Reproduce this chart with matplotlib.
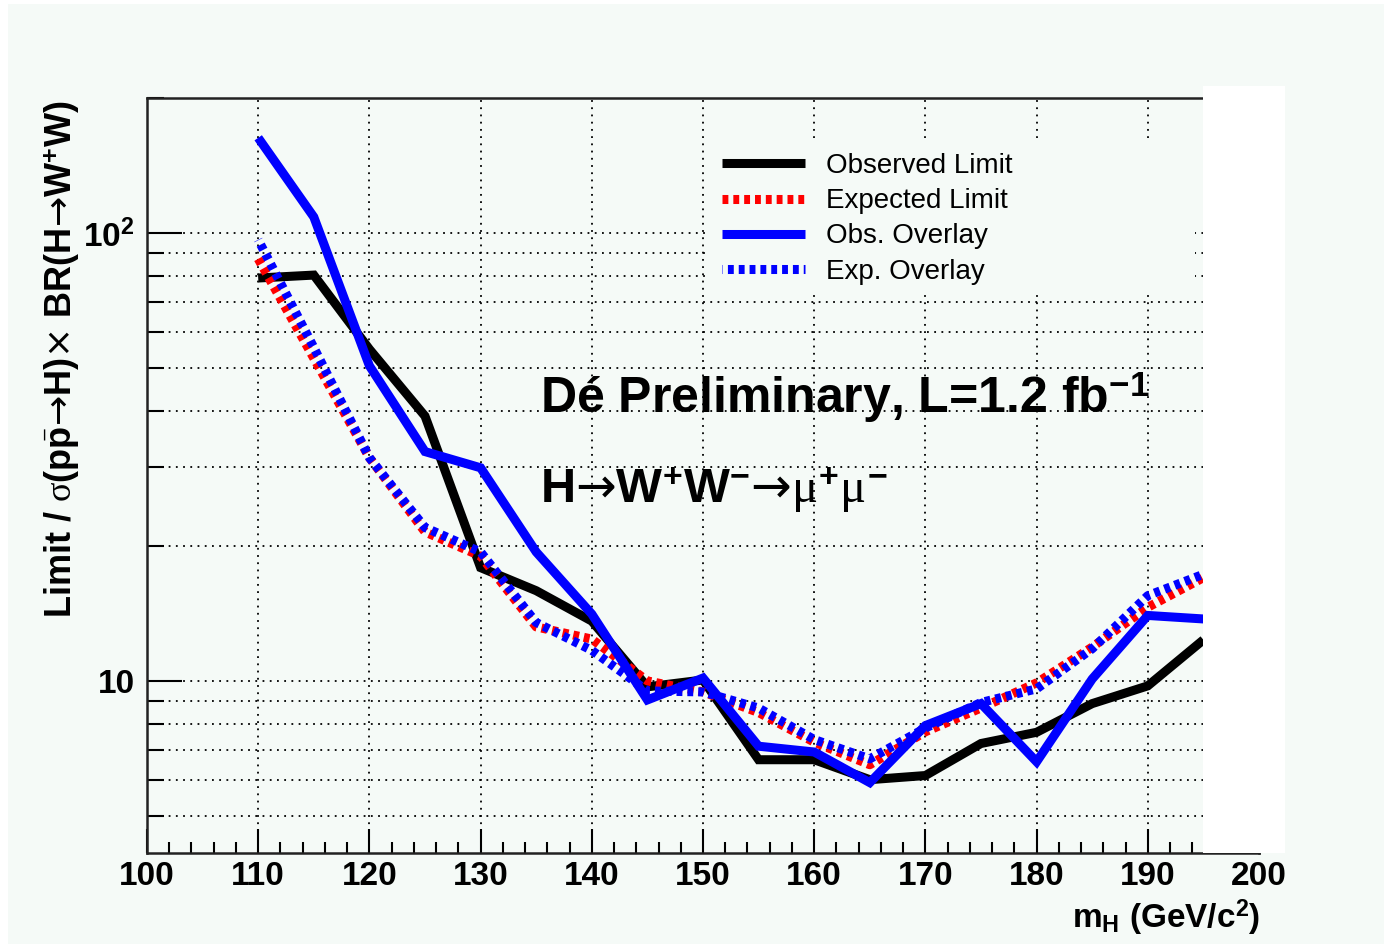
import matplotlib
matplotlib.use('Agg')
import matplotlib.pyplot as plt
from matplotlib.patches import Rectangle
from matplotlib.ticker import MultipleLocator, LogLocator, NullFormatter

# Higgs mass points (GeV/c^2)
mass = [110, 115, 120, 125, 130, 135, 140, 145, 150,
        155, 160, 165, 170, 175, 180, 185, 190, 195]
observed = [79.3, 80.5, 55.0, 39.0, 17.9, 15.9, 13.6, 9.7, 10.05,
            6.67, 6.67, 6.02, 6.15, 7.25, 7.68, 8.9, 9.75, 12.35]
expected = [87.5, 52.5, 31.5, 21.5, 19.0, 13.2, 12.4, 10.0, 9.45,
            8.5, 7.3, 6.5, 7.7, 8.7, 9.9, 11.9, 14.6, 17.0]
obs_overlay = [163, 108.5, 50.5, 32.5, 29.9, 19.4, 14.1, 9.07, 10.15,
               7.15, 6.94, 5.93, 7.95, 8.9, 6.6, 10.1, 14.0, 13.75]
exp_overlay = [96.5, 55.5, 31.5, 22.0, 19.4, 13.5, 11.7, 9.5, 9.45,
               8.7, 7.4, 6.7, 7.85, 8.95, 9.6, 11.8, 15.5, 17.3]

bg = '#f5faf7'
plt.rcParams['font.family'] = ['Liberation Sans', 'DejaVu Sans']
plt.rcParams['mathtext.fontset'] = 'custom'
plt.rcParams['mathtext.rm'] = 'Liberation Serif'
plt.rcParams['mathtext.it'] = 'Liberation Serif'
plt.rcParams['mathtext.bf'] = 'Liberation Sans:bold'
plt.rcParams['mathtext.sf'] = 'DejaVu Sans'

W, H = 1384, 944
fig = plt.figure(figsize=(W / 100, H / 100), dpi=100, facecolor='white')
fig.patches.append(Rectangle((8 / W, 0), 1 - 8 / W, 1 - 4 / H, transform=fig.transFigure,
                             facecolor=bg, edgecolor='none', zorder=-5))

ax = fig.add_axes([147 / W, 91 / H, 1112 / W, 755 / H])
ax.set_facecolor('none')
ax.set_yscale('log')
ax.set_xlim(100, 200)
ax.set_ylim(4.13, 200)

lw = 6.5
ax.plot(mass, observed, color='black', lw=lw, solid_capstyle='butt', solid_joinstyle='miter',
        label='Observed Limit', zorder=3)
ax.plot(mass, expected, color='red', lw=lw, linestyle=(0, (0.65, 0.55)), dash_capstyle='butt',
        label='Expected Limit', zorder=3)
ax.plot(mass, obs_overlay, color='blue', lw=lw, solid_capstyle='butt', solid_joinstyle='miter',
        label='Obs. Overlay', zorder=4)
ax.plot(mass, exp_overlay, color='blue', lw=lw, linestyle=(0.6, (0.65, 0.55)), dash_capstyle='butt',
        label='Exp. Overlay', zorder=4)

# ticks, ROOT style (inside)
ax.xaxis.set_major_locator(MultipleLocator(10))
ax.xaxis.set_minor_locator(MultipleLocator(2))
ax.set_yticks([10, 100])
ax.set_yticklabels(['10', r'$\mathbf{10^{2}}$'])
ax.yaxis.set_minor_locator(LogLocator(base=10, subs=range(2, 10)))
ax.yaxis.set_minor_formatter(NullFormatter())
ax.tick_params(axis='x', which='major', direction='in', length=17, width=1.5, pad=6,
               labelsize=24, top=False)
ax.tick_params(axis='x', which='minor', direction='in', length=8, width=1.5, top=False)
ax.tick_params(axis='y', which='major', direction='in', length=25, width=1.5, pad=9,
               labelsize=24, right=False)
ax.tick_params(axis='y', which='minor', direction='in', length=12, width=1.5, right=False)
for lab in ax.get_xticklabels() + ax.get_yticklabels():
    lab.set_fontweight('bold')

ax.grid(True, which='major', axis='x', color='black', linestyle=(0, (1, 3)), lw=1.3)
ax.grid(True, which='both', axis='y', color='black', linestyle=(0, (1, 3)), lw=1.3)
for s in ax.spines.values():
    s.set_linewidth(1.8)
    s.set_color('#222222')

# legend area hides the grid behind it
ax.add_patch(Rectangle((0.502, 0.746), 0.44, 0.196, transform=ax.transAxes,
                       facecolor=bg, edgecolor='none', zorder=2))
ax.legend(loc='upper left', bbox_to_anchor=(0.517, 0.927), frameon=False, fontsize=20,
          handlelength=3.0, handletextpad=0.75, labelspacing=0.33, borderpad=0,
          borderaxespad=0)

ax.text(0.3534, 0.583, r'Dé Preliminary, L=1.2 fb$^{\mathbf{-1}}$', transform=ax.transAxes,
        fontsize=36, fontweight='bold', va='baseline', ha='left', zorder=5)
ax.text(0.3534, 0.4636,
        r'$\mathbf{H}\mathsf{→}\mathbf{W}^{\mathbf{+}}\mathbf{W}^{\mathbf{-}}\mathsf{→}\mu^{\mathbf{+}}\mu^{\mathbf{-}}$',
        transform=ax.transAxes, fontsize=35, va='baseline', ha='left', zorder=5)

fig.text(62 / W, 1 - 100 / H,
         r'Limit / $\sigma$(p$\bar{\mathbf{p}}\mathsf{→}$H)$\mathsf{×}$ BR(H$\mathsf{→}$W$^{\mathbf{+}}$W)',
         rotation=90, ha='center', va='top', fontsize=26, fontweight='bold')
fig.text(1260 / W, 1 - 918 / H, r'$\mathbf{m_{H}}$ (GeV/c$^{\mathbf{2}}$)', ha='right', va='center',
         fontsize=24, fontweight='bold')

# white strip covering the right end of the frame
fig.patches.append(Rectangle((1203 / W, 91 / H), 82 / W, (853 - 86) / H, transform=fig.transFigure,
                             facecolor='white', edgecolor='none', zorder=10))

fig.savefig('out.png', dpi=100, facecolor=fig.get_facecolor())
